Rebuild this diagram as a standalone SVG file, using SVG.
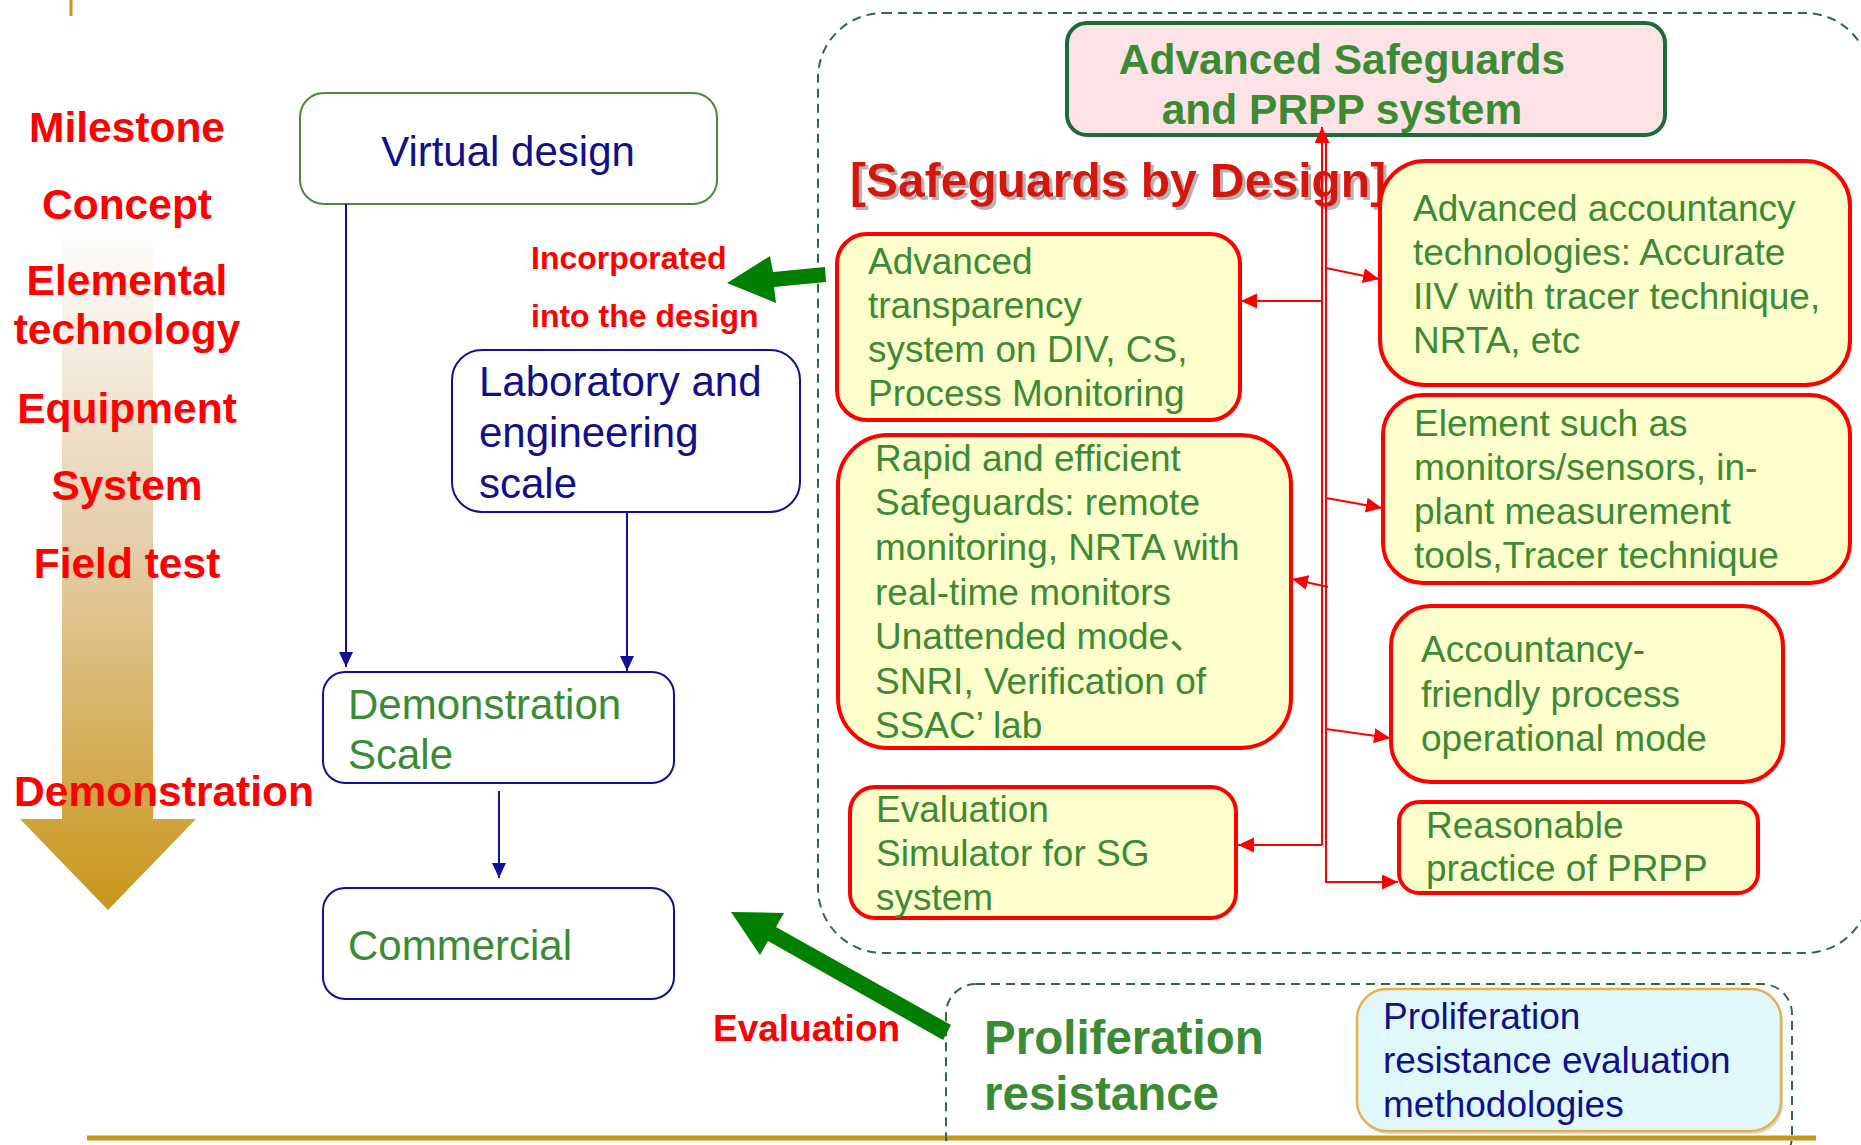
<svg xmlns="http://www.w3.org/2000/svg" width="1861" height="1145" viewBox="0 0 1861 1145">
<defs>
<linearGradient id="gold" x1="0" y1="225" x2="0" y2="910" gradientUnits="userSpaceOnUse">
<stop offset="0" stop-color="#FFFFFF"/>
<stop offset="0.45" stop-color="#E6CFAE"/>
<stop offset="1" stop-color="#C8961A"/>
</linearGradient>
<marker id="navyArrow" markerUnits="userSpaceOnUse" markerWidth="16" markerHeight="15" refX="15" refY="7" orient="auto">
<path d="M0,0 L15,7 L0,14 z" fill="#10109A"/>
</marker>
<marker id="redArrow" markerUnits="userSpaceOnUse" markerWidth="17" markerHeight="16" refX="16" refY="7.5" orient="auto">
<path d="M0,0 L16,7.5 L0,15 z" fill="#FF0000"/>
</marker>
<filter id="shadow" x="-5%" y="-20%" width="110%" height="140%">
<feOffset dx="3" dy="3" in="SourceAlpha" result="o"/>
<feFlood flood-color="#B4B4B4"/>
<feComposite in2="o" operator="in" result="s"/>
<feMerge><feMergeNode in="s"/><feMergeNode in="SourceGraphic"/></feMerge>
</filter>
</defs>
<style>
text { font-family: "Liberation Sans", Arial, "Noto Sans CJK SC", sans-serif; }
.stage { font-size: 42.5px; font-weight: bold; fill: #FF0000; text-anchor: middle; }
.navybox { fill: #FFFFFF; stroke: #10109A; stroke-width: 2; }
.navy { font-size: 42px; fill: #10108C; }
.green42 { font-size: 42px; fill: #3B8B35; }
.ybox { fill: #FFFFCC; stroke: #FF0000; stroke-width: 4; }
.yt { font-size: 37px; fill: #3B8B35; }
.dash { fill: none; stroke: #2E6B45; stroke-width: 2; stroke-dasharray: 9 6; }
.nline { stroke: #10109A; stroke-width: 2; fill: none; }
.rline { stroke: #FF0000; stroke-width: 2; fill: none; }
.redlbl { font-weight: bold; fill: #FF0000; }
</style>

<!-- decorative lines -->
<line x1="71" y1="0" x2="71" y2="16" stroke="#C8961A" stroke-width="3"/>
<line x1="87" y1="1138" x2="1816" y2="1138" stroke="#C8961A" stroke-width="5"/>

<!-- big gradient arrow -->
<polygon points="62,225 153,225 153,819 196,819 108,910 20,819 62,819" fill="url(#gold)"/>

<!-- stage labels -->
<g id="stages">
<text class="stage" x="127" y="142">Milestone</text>
<text class="stage" x="127" y="219">Concept</text>
<text class="stage" x="127" y="295">Elemental</text>
<text class="stage" x="127" y="344">technology</text>
<text class="stage" x="127" y="423">Equipment</text>
<text class="stage" x="127" y="500">System</text>
<text class="stage" x="127" y="578">Field test</text>
<text class="stage" x="164" y="806">Demonstration</text>
</g>

<!-- dashed containers -->
<rect class="dash" x="818" y="13" width="1052" height="940" rx="65"/>
<rect class="dash" x="946" y="984" width="846" height="182" rx="30"/>

<g id="virtual-design">
<rect x="300" y="93" width="417" height="111" rx="24" fill="#FFFFFF" stroke="#4A8A3A" stroke-width="2"/>
<text class="navy" x="508" y="166" text-anchor="middle">Virtual design</text>
</g>

<g id="lab-scale">
<rect class="navybox" x="452" y="350" width="348" height="162" rx="30"/>
<text class="navy" x="479" y="396">Laboratory and</text>
<text class="navy" x="479" y="447">engineering</text>
<text class="navy" x="479" y="498">scale</text>
</g>

<g id="demo-scale">
<rect class="navybox" x="323" y="672" width="351" height="111" rx="22"/>
<text class="green42" x="348" y="719">Demonstration</text>
<text class="green42" x="348" y="769">Scale</text>
</g>

<g id="commercial">
<rect class="navybox" x="323" y="888" width="351" height="111" rx="22"/>
<text class="green42" x="348" y="960">Commercial</text>
</g>

<text class="redlbl" x="531" y="269" font-size="32">Incorporated</text>
<text class="redlbl" x="531" y="327" font-size="32">into the design</text>
<text class="redlbl" x="713" y="1041" font-size="37">Evaluation</text>

<g id="title">
<rect x="1067" y="23" width="598" height="112" rx="20" fill="#FDE3E5" stroke="#1C6B3A" stroke-width="4"/>
<text x="1342" y="74" font-size="42.5" font-weight="bold" fill="#3B8B35" text-anchor="middle">Advanced Safeguards</text>
<text x="1342" y="124" font-size="42.5" font-weight="bold" fill="#3B8B35" text-anchor="middle">and PRPP system</text>
</g>

<text x="850" y="197" font-size="48" font-weight="bold" fill="#D4190F" filter="url(#shadow)">[Safeguards by Design]</text>

<g id="adv-transparency">
<rect class="ybox" x="837" y="234" width="403" height="186" rx="30"/>
<text class="yt" x="868" y="274">Advanced</text>
<text class="yt" x="868" y="318">transparency</text>
<text class="yt" x="868" y="362">system on DIV, CS,</text>
<text class="yt" x="868" y="406">Process Monitoring</text>
</g>

<g id="rapid">
<rect class="ybox" x="838" y="435" width="453" height="313" rx="50"/>
<text class="yt" x="875" y="471">Rapid and efficient</text>
<text class="yt" x="875" y="515">Safeguards: remote</text>
<text class="yt" x="875" y="560">monitoring, NRTA with</text>
<text class="yt" x="875" y="605">real-time monitors</text>
<text class="yt" x="875" y="649">Unattended mode、</text>
<text class="yt" x="875" y="694">SNRI, Verification of</text>
<text class="yt" x="875" y="738">SSAC’ lab</text>
</g>

<g id="eval-sim">
<rect class="ybox" x="850" y="787" width="386" height="131" rx="25"/>
<text class="yt" x="876" y="822">Evaluation</text>
<text class="yt" x="876" y="866">Simulator for SG</text>
<text class="yt" x="876" y="910">system</text>
</g>

<g id="adv-accountancy">
<rect class="ybox" x="1380" y="161" width="470" height="224" rx="45"/>
<text class="yt" x="1413" y="221">Advanced accountancy</text>
<text class="yt" x="1413" y="265">technologies: Accurate</text>
<text class="yt" x="1413" y="309">IIV with tracer technique,</text>
<text class="yt" x="1413" y="353">NRTA, etc</text>
</g>

<g id="element">
<rect class="ybox" x="1383" y="395" width="467" height="188" rx="40"/>
<text class="yt" x="1414" y="436">Element such as</text>
<text class="yt" x="1414" y="480">monitors/sensors, in-</text>
<text class="yt" x="1414" y="524">plant measurement</text>
<text class="yt" x="1414" y="568">tools,Tracer technique</text>
</g>

<g id="acc-friendly">
<rect class="ybox" x="1391" y="606" width="392" height="176" rx="40"/>
<text class="yt" x="1421" y="662">Accountancy-</text>
<text class="yt" x="1421" y="707">friendly process</text>
<text class="yt" x="1421" y="751">operational mode</text>
</g>

<g id="reasonable">
<rect class="ybox" x="1399" y="802" width="359" height="91" rx="20"/>
<text class="yt" x="1426" y="838">Reasonable</text>
<text class="yt" x="1426" y="881">practice of PRPP</text>
</g>

<g id="prolif">
<text x="984" y="1054" font-size="47.5" font-weight="bold" fill="#3B8B35">Proliferation</text>
<text x="984" y="1110" font-size="47.5" font-weight="bold" fill="#3B8B35">resistance</text>
</g>

<g id="prolif-methods">
<rect x="1359" y="992" width="424" height="142" rx="30" fill="#D8D8C8"/>
<rect x="1357" y="989" width="424" height="142" rx="30" fill="#E0F8FC" stroke="#E8B048" stroke-width="2.5"/>
<text x="1383" y="1029" font-size="37" fill="#10108C">Proliferation</text>
<text x="1383" y="1073" font-size="37" fill="#10108C">resistance evaluation</text>
<text x="1383" y="1117" font-size="37" fill="#10108C">methodologies</text>
</g>

<g id="connectors">
<path class="nline" d="M346,204 V667" marker-end="url(#navyArrow)"/>
<path class="nline" d="M627,512 V671" marker-end="url(#navyArrow)"/>
<path class="nline" d="M499,791 V878" marker-end="url(#navyArrow)"/>
<polygon points="727,283 770,256 773,272 825,267 826,282 774,287 776,303" fill="#007F00"/>
<polygon points="731,912 784,913 776,927 951,1025 943,1040 768,941 760,955" fill="#007F00"/>
<path class="rline" d="M1322,845 V127" marker-end="url(#redArrow)"/>
<path class="rline" d="M1322,301 H1241" marker-end="url(#redArrow)"/>
<path class="rline" d="M1322,845 H1238" marker-end="url(#redArrow)"/>
<path class="rline" d="M1328,587 L1292,579" marker-end="url(#redArrow)"/>
<path class="rline" d="M1326,137 V882 H1398" marker-end="url(#redArrow)"/>
<path class="rline" d="M1326,268 L1379,279" marker-end="url(#redArrow)"/>
<path class="rline" d="M1326,498 L1382,508" marker-end="url(#redArrow)"/>
<path class="rline" d="M1326,729 L1390,738" marker-end="url(#redArrow)"/>
</g>
</svg>
